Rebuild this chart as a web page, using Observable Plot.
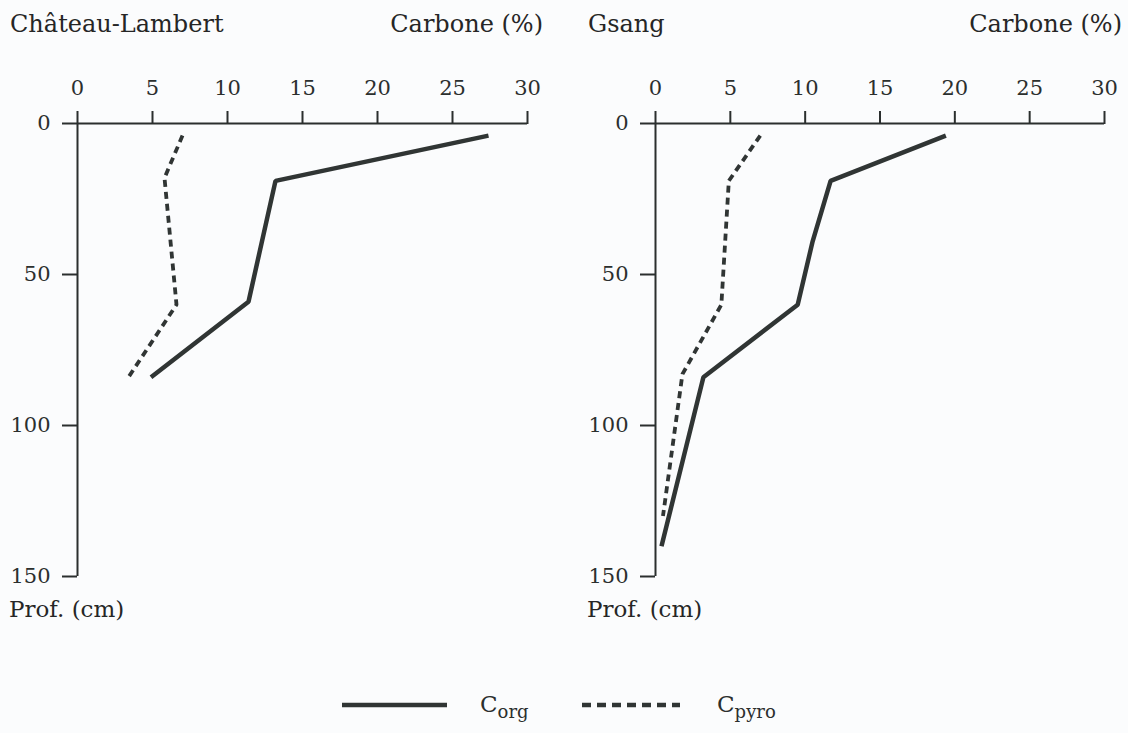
<!DOCTYPE html>
<html>
<head>
<meta charset="utf-8">
<script src="https://cdn.jsdelivr.net/npm/d3@7"></script>
<script src="https://cdn.jsdelivr.net/npm/@observablehq/plot@0.6"></script>
<style>
  body { margin: 0; background: #fbfcfd; }
  #wrap { position: relative; width: 1128px; height: 733px; font-family: "DejaVu Serif", serif; color: #262626; }
  .lbl { position: absolute; font-size: 24px; line-height: 1; white-space: nowrap; }
  .panel { position: absolute; top: 0; }
  #legend { position: absolute; left: 0; top: 680px; width: 1128px; height: 50px; }
</style>
</head>
<body>
<div id="wrap">
  <div id="p1" class="panel" style="left:0"></div>
  <div id="p2" class="panel" style="left:564px"></div>
  <div id="labels"></div>
  <div id="legend"></div>
</div>
<script>
// ---- data ----
const sites = ["Château-Lambert", "Gsang"];
const xLabel = "Carbone (%)";
const yLabel = "Prof. (cm)";
const xTicks = [0, 5, 10, 15, 20, 25, 30];
const yTicks = [0, 50, 100, 150];
const seriesNames = ["org", "pyro"];

// Château-Lambert
const clCorgDepth = [4, 19, 59, 84];
const clCorg      = [27.4, 13.2, 11.4, 4.9];
const clCpyroDepth = [4, 18, 60, 84];
const clCpyro      = [7.0, 5.8, 6.6, 3.4];

// Gsang
const gsCorgDepth = [4, 19, 39, 60, 84, 140];
const gsCorg      = [19.4, 11.7, 10.5, 9.5, 3.2, 0.4];
const gsCpyroDepth = [4, 19, 60, 83, 130];
const gsCpyro      = [7.0, 4.9, 4.4, 1.8, 0.5];

// ---- drawing ----
const ink = "#2b2f2e";
const lineInk = "#303534";
const font = "DejaVu Serif, serif";

function rows(depths, vals) { return depths.map((d, i) => ({depth: d, c: vals[i]})); }

function panel(corgD, corg, pyroD, pyro, marginLeft, marginRight) {
  return Plot.plot({
    width: 564, height: 600,
    marginTop: 123, marginBottom: 24, marginLeft, marginRight,
    style: {background: "transparent", fontFamily: font, fontSize: "21px", color: ink, overflow: "visible"},
    x: {domain: [0, 30], axis: null},
    y: {domain: [0, 150], reverse: true, axis: null},
    marks: [
      Plot.axisX({anchor: "top", ticks: xTicks, tickSize: 13, tickPadding: 16, strokeWidth: 2, stroke: ink, label: null, fontSize: 21}),
      Plot.axisY({anchor: "left", ticks: yTicks, tickSize: 15, tickPadding: 12, strokeWidth: 2, stroke: ink, label: null, fontSize: 21}),
      Plot.ruleY([0], {stroke: ink, strokeWidth: 2}),
      Plot.ruleX([0], {stroke: ink, strokeWidth: 2}),
      Plot.line(rows(corgD, corg), {x: "c", y: "depth", stroke: lineInk, strokeWidth: 4.5, strokeLinejoin: "miter", strokeLinecap: "butt"}),
      Plot.line(rows(pyroD, pyro), {x: "c", y: "depth", stroke: lineInk, strokeWidth: 3.8, strokeDasharray: "7,5", strokeLinejoin: "miter", strokeLinecap: "butt"})
    ]
  });
}

document.getElementById("p1").append(panel(clCorgDepth, clCorg, clCpyroDepth, clCpyro, 77, 37));
document.getElementById("p2").append(panel(gsCorgDepth, gsCorg, gsCpyroDepth, gsCpyro, 91, 24));

// titles and axis names
const labels = document.getElementById("labels");
function addLabel(text, css) {
  const d = document.createElement("div");
  d.className = "lbl";
  d.textContent = text;
  Object.assign(d.style, css);
  labels.append(d);
}
addLabel(sites[0], {left: "10px", top: "12px"});
addLabel(xLabel, {right: (1128 - 543) + "px", top: "12px"});
addLabel(sites[1], {left: "588px", top: "12px"});
addLabel(xLabel, {right: (1128 - 1122) + "px", top: "12px"});
addLabel(yLabel, {left: "9px", top: "598px", fontSize: "23px"});
addLabel(yLabel, {left: "587px", top: "598px", fontSize: "23px"});

// legend
const lg = d3.select("#legend").append("svg").attr("width", 1128).attr("height", 50);
lg.append("line").attr("x1", 342).attr("x2", 447).attr("y1", 25).attr("y2", 25)
  .attr("stroke", lineInk).attr("stroke-width", 4.5);
lg.append("line").attr("x1", 582).attr("x2", 680).attr("y1", 25).attr("y2", 25)
  .attr("stroke", lineInk).attr("stroke-width", 4.5).attr("stroke-dasharray", "9,6");
const t1 = lg.append("text").attr("x", 480).attr("y", 32).attr("font-family", font).attr("font-size", 23).attr("fill", ink);
t1.append("tspan").text("C");
t1.append("tspan").attr("dy", 6).attr("font-size", 18).text(seriesNames[0]);
const t2 = lg.append("text").attr("x", 717).attr("y", 32).attr("font-family", font).attr("font-size", 23).attr("fill", ink);
t2.append("tspan").text("C");
t2.append("tspan").attr("dy", 6).attr("font-size", 18).text(seriesNames[1]);
</script>
</body>
</html>
